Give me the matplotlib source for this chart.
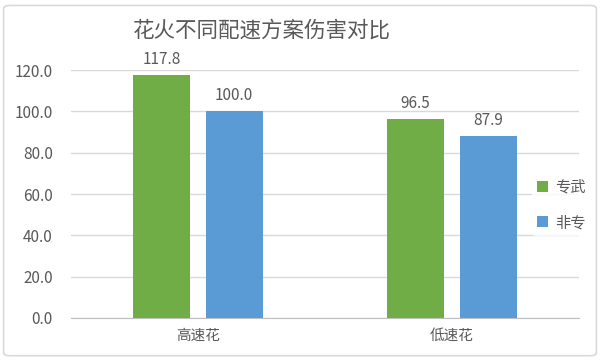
import numpy as np
import matplotlib
matplotlib.use("Agg")
import matplotlib.pyplot as plt
from matplotlib.patches import FancyBboxPatch

plt.rcParams['font.family'] = ['Noto Sans CJK SC', 'DejaVu Sans']

# data
categories = ['高速花', '低速花']
series_names = ['专武', '非专']
zhuanwu = [117.8, 96.5]
feizhuan = [100.0, 87.9]
colors = ['#70AD47', '#5B9BD5']
text_color = '#595959'

fig = plt.figure(figsize=(6.0, 3.63), dpi=100)
# outer chart border
fig.patches.append(FancyBboxPatch((0.006, 0.02), 0.988, 0.965, boxstyle='round,pad=0,rounding_size=0.01',
                                  transform=fig.transFigure, fill=False, edgecolor='#D9D9D9', linewidth=1.2))

ax = fig.add_axes([0.118, 0.124, 0.847, 0.683])

x = np.arange(len(categories))
w = 0.224
off = 0.143
b1 = ax.bar(x - off, zhuanwu, w, color=colors[0], label=series_names[0], zorder=3)
b2 = ax.bar(x + off, feizhuan, w, color=colors[1], label=series_names[1], zorder=3)

for bars, vals in ((b1, zhuanwu), (b2, feizhuan)):
    for r, v in zip(bars, vals):
        ax.annotate(f'{v:.1f}', (r.get_x() + r.get_width() / 2, v), xytext=(0, 5),
                    textcoords='offset points', ha='center', va='bottom',
                    fontsize=11, color=text_color, annotation_clip=False)

ax.set_xlim(-0.5, 1.5)
ax.set_ylim(0, 120)
ax.set_yticks(np.arange(0, 121, 20))
ax.set_yticklabels([f'{t:.1f}' for t in np.arange(0, 121, 20)])
ax.set_xticks(x)
ax.set_xticklabels(categories)
ax.tick_params(axis='y', length=0, pad=13, labelsize=11, labelcolor=text_color)
ax.tick_params(axis='x', length=0, pad=8, labelsize=10.5, labelcolor=text_color)
ax.grid(axis='y', color='#D9D9D9', linewidth=1, zorder=0)
for s in ['top', 'right', 'left']:
    ax.spines[s].set_visible(False)
ax.spines['bottom'].set_color('#BFBFBF')

fig.text(0.437, 0.915, '花火不同配速方案伤害对比', ha='center', va='center',
         fontsize=15.5, color=text_color)

leg = ax.legend(loc='center left', bbox_to_anchor=(0.893, 0.456), frameon=True,
                fontsize=11, handlelength=0.7, handleheight=0.7, handletextpad=0.5,
                labelspacing=1.2, borderpad=0.3)
leg.get_frame().set_facecolor('white')
leg.get_frame().set_edgecolor('none')
for t in leg.get_texts():
    t.set_color(text_color)

fig.savefig('out.png', dpi=100)
